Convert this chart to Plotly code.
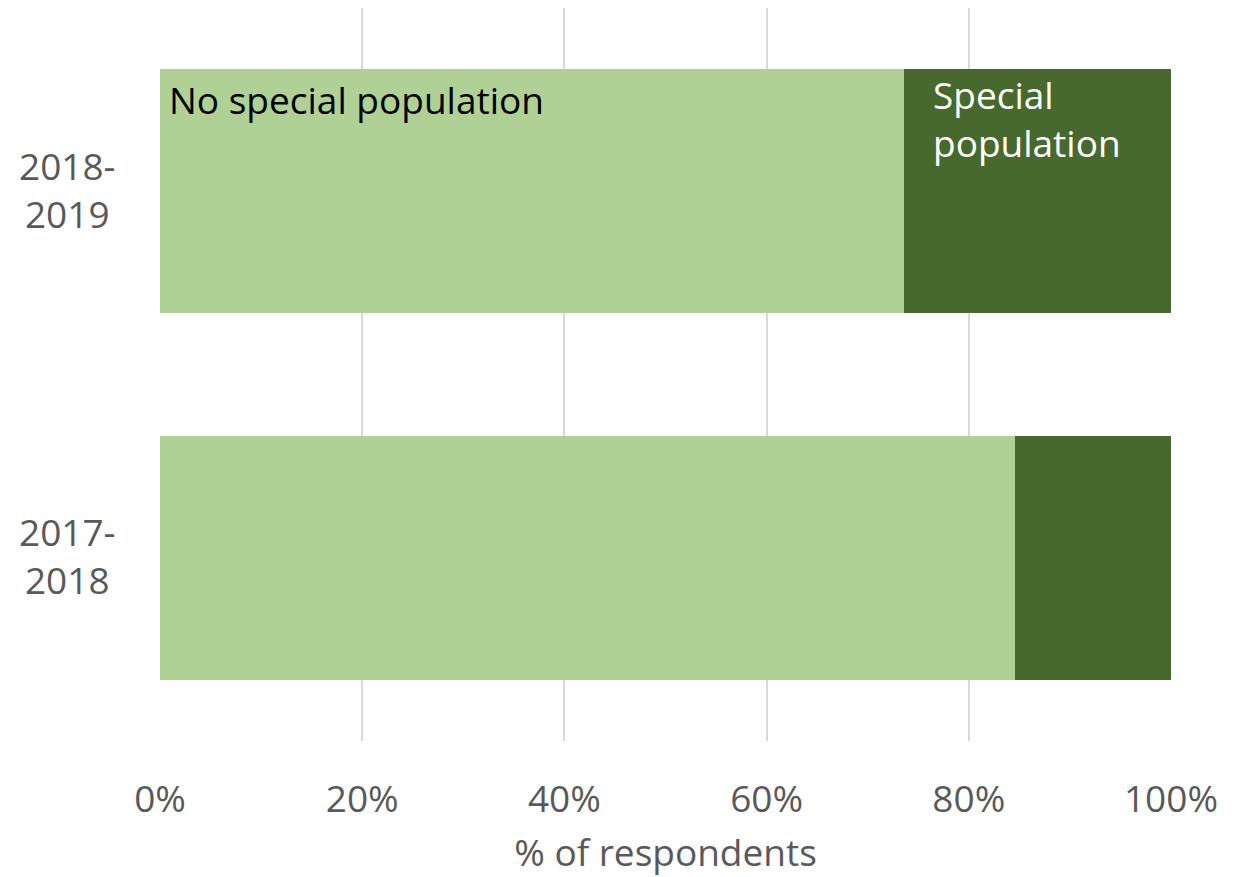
import plotly.graph_objects as go

categories = ["2017-2018", "2018-2019"]
category_labels = ["2017-<br>2018", "2018-<br>2019"]
no_special = [0.846, 0.736]
special = [0.154, 0.264]
tick_vals = [0, 0.2, 0.4, 0.6, 0.8, 1.0]
tick_text = ["0%", "20%", "40%", "60%", "80%", "100%"]

FONT = "Open Sans"
GREY = "#595959"
FS = 37

fig = go.Figure()
fig.add_trace(go.Bar(y=categories, x=no_special, orientation="h",
                     marker=dict(color="#AFD196", line=dict(width=0)),
                     name="No special population", hoverinfo="skip"))
fig.add_trace(go.Bar(y=categories, x=special, orientation="h",
                     marker=dict(color="#47692D", line=dict(width=0)),
                     name="Special population", hoverinfo="skip"))

annotations = []
for cat, lab in zip(categories, category_labels):
    annotations.append(dict(x=0, xref="paper", xanchor="right", xshift=-42,
                            y=cat, yref="y", yanchor="middle", yshift=2,
                            text=lab, showarrow=False, align="center",
                            font=dict(family=FONT, size=FS, color=GREY)))

annotations.append(dict(x=0, xref="x", xanchor="left", xshift=7,
                        y=categories[1], yref="y", yanchor="top", yshift=119,
                        text="No special population", showarrow=False,
                        font=dict(family=FONT, size=FS, color="black")))
annotations.append(dict(x=no_special[1], xref="x", xanchor="left", xshift=27,
                        y=categories[1], yref="y", yanchor="top", yshift=124,
                        text="Special<br>population", showarrow=False, align="left",
                        font=dict(family=FONT, size=FS, color="white")))

fig.update_layout(
    barmode="stack",
    bargap=0.333,
    width=1232, height=869,
    margin=dict(l=152, r=69, t=0, b=136),
    plot_bgcolor="white", paper_bgcolor="white",
    showlegend=False,
    annotations=annotations,
    xaxis=dict(range=[0, 1], tickvals=tick_vals, ticktext=tick_text,
               showgrid=True, gridcolor="#D9D9D9", gridwidth=1.5,
               zeroline=False, showline=False, automargin=False,
               ticks="outside", ticklen=26, tickcolor="rgba(0,0,0,0)",
               tickfont=dict(family=FONT, size=FS, color=GREY),
               title=dict(text="% of respondents", standoff=34,
                          font=dict(family=FONT, size=FS, color=GREY))),
    yaxis=dict(categoryorder="array", categoryarray=categories,
               range=[-0.5, 1.5], showticklabels=False, showgrid=False,
               zeroline=False, showline=False, automargin=False),
)

fig.write_html("out.html")
